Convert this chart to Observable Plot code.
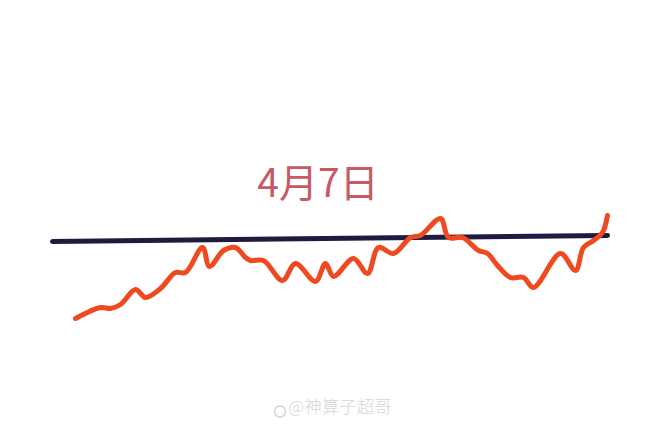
<!DOCTYPE html>
<html>
<head>
<meta charset="utf-8">
<script src="https://cdn.jsdelivr.net/npm/d3@7"></script>
<script src="https://cdn.jsdelivr.net/npm/@observablehq/plot@0.6"></script>
<style>
  html, body { margin: 0; padding: 0; background: #fff; }
</style>
</head>
<body>
<div id="chart"></div>
<script>
// Price path (hand-drawn curve), x = time position, y = level
const priceX = [23, 48, 58, 68, 83, 93, 108, 123, 133, 150, 157, 171, 183, 193, 198, 211, 230, 243, 263, 273, 281, 301, 315, 326, 341, 358, 368, 388, 396, 410, 426, 435, 445, 458, 471, 481, 508, 523, 531, 541, 550, 555];
const priceY = [82, 93, 92, 96, 111, 103, 112, 128, 128, 153, 134, 150, 153, 143, 140, 140, 120, 137, 119, 137, 124, 142, 127, 153, 147, 163, 165, 182, 163, 163, 150, 147, 135, 123, 123, 113, 147, 130, 153, 160, 168, 185];
// Reference (resistance) line
const refX = [0, 555];
const refY = [159, 165];
const titleText = ["4月7日"];
const watermarkText = ["@神算子超哥"];

const price = priceX.map((x, i) => ({x, y: priceY[i]}));
const ref = refX.map((x, i) => ({x, y: refY[i]}));

const chart = Plot.plot({
  width: 655,
  height: 435,
  marginLeft: 52,
  marginRight: 48,
  marginTop: 0,
  marginBottom: 35,
  x: {domain: [0, 555], axis: null},
  y: {domain: [0, 400], axis: null},
  style: {background: "#fff", fontFamily: "'Noto Sans CJK SC', sans-serif"},
  marks: [
    Plot.line(ref, {x: "x", y: "y", stroke: "#1d1b40", strokeWidth: 5, strokeLinecap: "round"}),
    Plot.line(price, {x: "x", y: "y", stroke: "#f0481f", strokeWidth: 5, curve: "catmull-rom", strokeLinecap: "round", strokeLinejoin: "round"}),
    Plot.text(titleText, {text: d => d, frameAnchor: "top", dy: 169, dx: -12, fontSize: 39, fill: "#c65a64", fontFamily: "'Noto Sans CJK SC', sans-serif"}),
    Plot.text(watermarkText, {text: d => d, frameAnchor: "bottom", dy: 12, dx: 10, fontSize: 17.5, fontWeight: 300, fill: "#d6d6d6", fontFamily: "'Noto Sans CJK SC', sans-serif"}),
    Plot.dot(watermarkText, {frameAnchor: "bottom", dy: 11, dx: -50, r: 5.5, stroke: "#d6d6d6", strokeWidth: 1.5, fill: "none"})
  ]
});
document.getElementById("chart").appendChild(chart);
</script>
</body>
</html>
